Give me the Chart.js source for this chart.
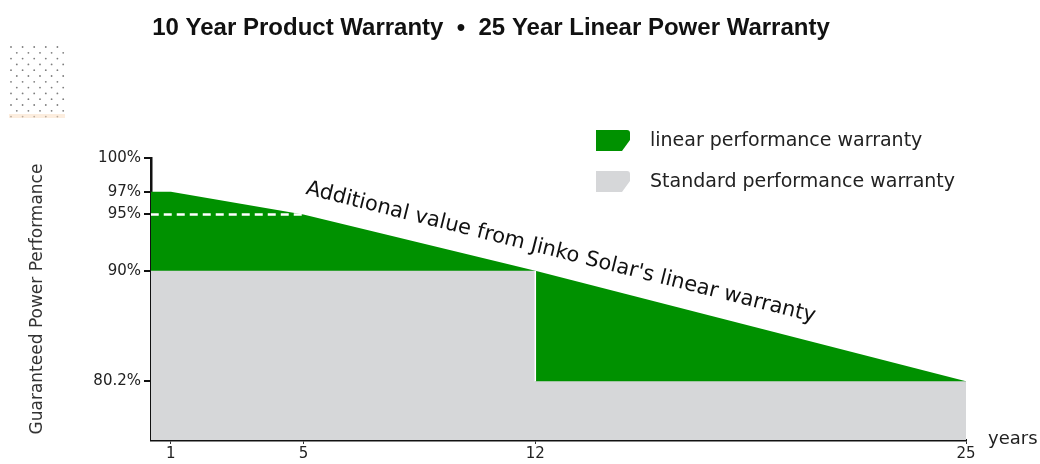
<!DOCTYPE html>
<html>
<head>
<meta charset="utf-8">
<script src="https://cdn.jsdelivr.net/npm/chart.js@4"></script>
<style>
  html, body { margin: 0; padding: 0; background: #fff; }
  #wrap { width: 1040px; height: 464px; position: relative; }
</style>
</head>
<body>
<div id="wrap"><canvas id="c" width="1040" height="464"></canvas></div>
<script>
// ---- data ----
const titleText = '10 Year Product Warranty  \u2022  25 Year Linear Power Warranty';
const yAxisTitle = 'Guaranteed Power Performance';
const xAxisUnit = 'years';
const annotationText = "Additional value from Jinko Solar's linear warranty";
const legendLabels = ['linear performance warranty', 'Standard performance warranty'];

const tickYears = [1, 5, 12, 25];
const tickPercents = [80.2, 90, 95, 97, 100];

const linearYears = [0, 1, 5, 12, 25];
const linearValues = [97, 97, 95, 90, 80.2];

const standardYears = [0, 12, 12, 25];
const standardValues = [90, 90, 80.2, 80.2];

const guideYears = [0, 5];
const guideValues = [95, 95];

const stepYears = [12, 12];
const stepValues = [80.2, 90];

const GREEN = '#009100';
const GRAY = '#d6d7d9';
const FONT = '"DejaVu Sans", sans-serif';

const pts = (xs, ys) => xs.map((x, i) => ({ x, y: ys[i] }));

const decorPlugin = {
  id: 'decor',
  afterDraw(chart) {
    const ctx = chart.ctx;
    const xs = chart.scales.x, ys = chart.scales.y;
    ctx.save();
    // title
    ctx.fillStyle = '#111';
    ctx.font = 'bold 24px "Liberation Sans", sans-serif';
    ctx.textAlign = 'center';
    ctx.textBaseline = 'middle';
    ctx.fillText(titleText, 491, 28);

    // dotted decoration
    ctx.fillStyle = 'rgba(70,70,70,0.7)';
    for (let r = 0; r < 13; r++) {
      const yy = 47 + r * 5.8;
      const off = (r % 2) ? 5.8 : 0;
      for (let c = 0; c < 5; c++) {
        const xx = 11 + off + c * 11.6;
        if (xx > 64) continue;
        ctx.beginPath(); ctx.arc(xx, yy, 0.9, 0, Math.PI * 2); ctx.fill();
      }
    }
    ctx.fillStyle = 'rgba(250,220,190,0.5)';
    ctx.fillRect(9, 114, 56, 4);

    // legend
    const swatch = (x, y, color) => {
      ctx.fillStyle = color;
      ctx.beginPath();
      ctx.moveTo(x, y);
      ctx.lineTo(x + 31, y);
      ctx.quadraticCurveTo(x + 34, y, x + 34, y + 3);
      ctx.lineTo(x + 34, y + 10);
      ctx.lineTo(x + 26, y + 21);
      ctx.lineTo(x, y + 21);
      ctx.closePath();
      ctx.fill();
    };
    swatch(596, 130, GREEN);
    swatch(596, 171, GRAY);
    ctx.fillStyle = '#222';
    ctx.font = '19px ' + FONT;
    ctx.textAlign = 'left';
    ctx.fillText(legendLabels[0], 650, 141);
    ctx.fillText(legendLabels[1], 650, 182);

    // years label
    ctx.font = '18px ' + FONT;
    ctx.fillText(xAxisUnit, 988, 439);

    // rotated annotation along the linear line
    const x1 = xs.getPixelForValue(5), y1 = ys.getPixelForValue(95);
    const x2 = xs.getPixelForValue(25), y2 = ys.getPixelForValue(80.2);
    const ang = Math.atan2(y2 - y1, x2 - x1);
    const sx = 305;
    const lineY = y1 + (sx - x1) * (y2 - y1) / (x2 - x1);
    ctx.translate(sx, lineY - 21);
    ctx.rotate(ang);
    ctx.fillStyle = '#111';
    ctx.font = '21px ' + FONT;
    ctx.textBaseline = 'alphabetic';
    ctx.fillText(annotationText, 0, 0);
    ctx.restore();
  }
};

new Chart(document.getElementById('c'), {
  type: 'line',
  data: {
    datasets: [
      { label: 'guide', data: pts(guideYears, guideValues), borderColor: '#fff', borderWidth: 2.5,
        borderDash: [8, 5], pointRadius: 0, fill: false, order: 0 },
      { label: 'step', data: pts(stepYears, stepValues), borderColor: '#fff', borderWidth: 1.5,
        pointRadius: 0, fill: false, order: 0 },
      { label: legendLabels[1], data: pts(standardYears, standardValues), borderWidth: 0,
        borderColor: GRAY, backgroundColor: GRAY, pointRadius: 0, fill: 'start', order: 1 },
      { label: legendLabels[0], data: pts(linearYears, linearValues), borderWidth: 0,
        borderColor: GREEN, backgroundColor: GREEN, pointRadius: 0, fill: 'start', order: 2 }
    ]
  },
  options: {
    responsive: false,
    animation: false,
    events: [],
    layout: { padding: { top: 158, right: 74, left: 0, bottom: 0 } },
    plugins: { legend: { display: false }, tooltip: { enabled: false }, title: { display: false } },
    scales: {
      x: {
        type: 'linear', min: 0.4, max: 25, z: 1,
        afterBuildTicks: (s) => { s.ticks = tickYears.map(v => ({ value: v })); },
        afterFit: (s) => { s.height = 24; },
        border: { color: '#111', width: 2.5 },
        grid: { drawOnChartArea: false, drawTicks: true, tickLength: 4, color: '#333', lineWidth: 1 },
        ticks: { color: '#222', font: { family: FONT, size: 15 }, padding: 1, maxRotation: 0 }
      },
      y: {
        type: 'linear', min: 75, max: 100, z: 1,
        afterBuildTicks: (s) => { s.ticks = tickPercents.map(v => ({ value: v })); },
        afterFit: (s) => { s.width = 151; },
        border: { color: '#111', width: 2.5 },
        grid: { drawOnChartArea: false, drawTicks: true, tickLength: 7, color: '#111', lineWidth: 2 },
        ticks: { color: '#222', font: { family: FONT, size: 15 }, padding: 3,
          callback: (v) => v + '%' },
        title: { display: true, text: yAxisTitle, color: '#333', font: { family: FONT, size: 17 },
          padding: { top: 27, bottom: 0 } }
      }
    }
  },
  plugins: [decorPlugin]
});
</script>
</body>
</html>
